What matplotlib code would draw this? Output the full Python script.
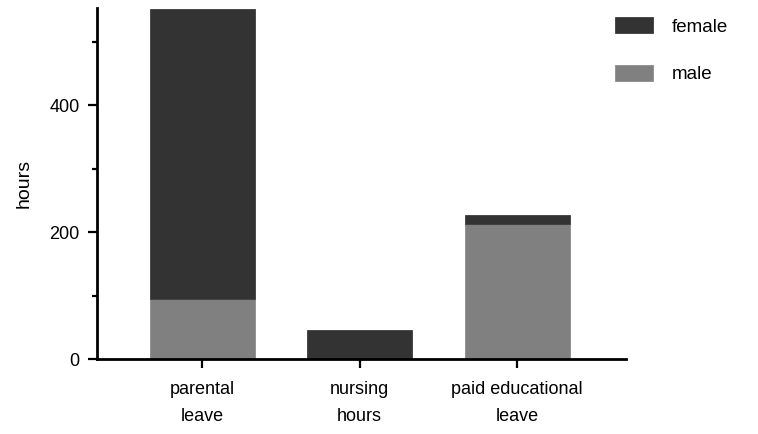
import matplotlib.pyplot as plt
import numpy as np

plt.rcParams['font.family'] = ['Liberation Sans', 'DejaVu Sans']

# hours taken per leave type, split by gender
categories = ["parental\nleave", "nursing\nhours", "paid educational\nleave"]
male_hours = [94, 0, 213]
female_hours = [457, 46, 14]

x = np.arange(len(categories))

fig = plt.figure(figsize=(7.58, 4.34), dpi=100)
ax = fig.add_axes([97 / 758, 75 / 434, 529 / 758, 351 / 434])

bar_w = 0.665
ax.bar(x, male_hours, width=bar_w, color="#808080", edgecolor="#8c8c8c",
       linewidth=0.6, label="male")
ax.bar(x, female_hours, width=bar_w, bottom=male_hours, color="#333333",
       edgecolor="#3c3c3c", linewidth=0.6, label="female")

ax.set_xlim(-0.667, 2.69)
ax.set_ylim(0, 553)

ax.spines["top"].set_visible(False)
ax.spines["right"].set_visible(False)
for side in ("left", "bottom"):
    ax.spines[side].set_linewidth(2.0)

ax.set_yticks([0, 200, 400])
ax.set_yticks([100, 300, 500], minor=True)
ax.tick_params(axis="y", which="major", length=6.5, width=1.6, pad=6, labelsize=13)
ax.tick_params(axis="y", which="minor", length=3.5, width=1.6)
ax.set_xticks(x)
ax.set_xticklabels(categories, linespacing=1.75)
ax.tick_params(axis="x", which="major", length=6.5, width=1.6, pad=9.5, labelsize=13)

ax.set_ylabel("hours", fontsize=14)
ax.yaxis.set_label_coords(-0.121, 0.5)

handles, labels = ax.get_legend_handles_labels()
fig.legend(handles[::-1], labels[::-1], loc="upper left",
           bbox_to_anchor=(615 / 758, 1 - 17 / 434), frameon=False,
           fontsize=13.5, handlelength=2.0, handleheight=0.95,
           handletextpad=1.05, labelspacing=1.55, borderpad=0, borderaxespad=0)

fig.savefig("out.png", dpi=100)
